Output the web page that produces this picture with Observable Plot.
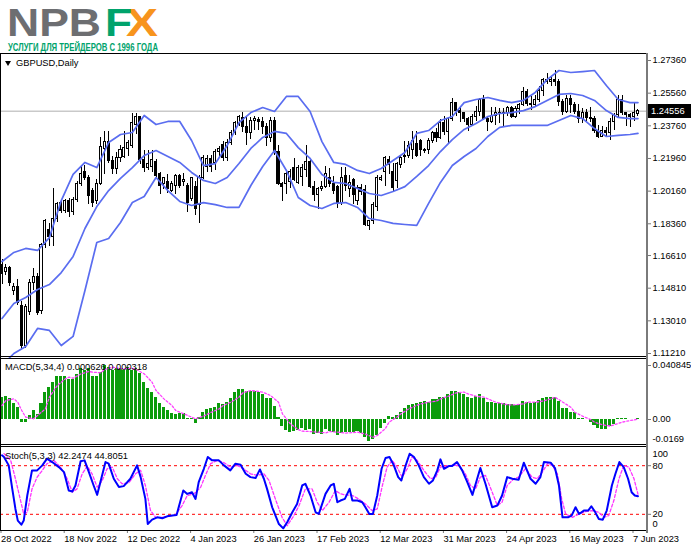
<!DOCTYPE html>
<html><head><meta charset="utf-8">
<script src="https://cdn.jsdelivr.net/npm/d3@7"></script>
<script src="https://cdn.jsdelivr.net/npm/@observablehq/plot@0.6"></script>
<style>
body{margin:0;background:#fff}
#root{position:relative;width:691px;height:549px;overflow:hidden;background:#fff;font-family:"Liberation Sans",Arial,sans-serif}
.pnl{position:absolute;left:0}
.ln{position:absolute;background:#000}
.lbl{position:absolute;font-size:9.3px;color:#000;white-space:nowrap;line-height:1}
</style></head><body>
<div id="root">
<div id="main" class="pnl" style="top:53px"></div>
<div id="macd" class="pnl" style="top:358px"></div>
<div id="stoch" class="pnl" style="top:446px"></div>
<svg width="190" height="62" style="position:absolute;left:0;top:0;overflow:visible">
 <text x="7" y="35.5" font-family="Liberation Sans, Arial" font-weight="bold" font-size="38" fill="#6d6e71" textLength="94" lengthAdjust="spacingAndGlyphs">NPB</text>
 <text x="126" y="35.5" font-family="Liberation Sans, Arial" font-weight="bold" font-size="38" fill="#f7941d" textLength="32" lengthAdjust="spacingAndGlyphs">X</text>
 <text x="105" y="35.5" font-family="Liberation Sans, Arial" font-weight="bold" font-size="38" fill="#00a36c" textLength="27" lengthAdjust="spacingAndGlyphs">F</text>
 <text x="8" y="50.5" font-family="Liberation Sans Narrow, Liberation Sans, Arial" font-weight="bold" font-size="10.5" fill="#00a36c" textLength="150" lengthAdjust="spacingAndGlyphs">УСЛУГИ ДЛЯ ТРЕЙДЕРОВ С 1996 ГОДА</text>
</svg>
</div>
<script>
// ---------- data ----------
const symbolTitle = "GBPUSD,Daily";
const macdTitle = "MACD(5,34,4) 0.000626 0.000318";
const stochTitle = "Stoch(5,3,3) 42.2474 44.8051";
const lastPrice = 1.24556;

const dateTickIdx = [0,16,32,48,64,80,96,112,128,144,160];
const dateLabels = ["28 Oct 2022","18 Nov 2022","12 Dec 2022","4 Jan 2023","26 Jan 2023","17 Feb 2023","12 Mar 2023","31 Mar 2023","24 Apr 2023","16 May 2023","7 Jun 2023"];
const priceTicks = [1.2736,1.2556,1.2376,1.2196,1.2016,1.1836,1.1661,1.1481,1.1301,1.1121];
const macdTicks = [0.040845,0];
const macdMinTick = -0.0169;
const stochTicks = [80,20];
const stochLevels = [80,20];

const open = [1.1610,1.1568,1.1590,1.1468,1.1485,1.1385,1.1165,1.1350,1.1512,1.1540,
1.1358,1.1717,1.1800,1.1762,1.1860,1.1953,1.1909,1.1960,1.1900,1.1965,
1.2055,1.2119,1.2086,1.2019,1.1964,1.2055,1.2250,1.2285,1.2180,1.2140,
1.2200,1.2205,1.2250,1.2267,1.2380,1.2425,1.2185,1.2146,1.2150,1.2174,
1.2113,1.2058,1.2064,1.2019,1.2047,1.2102,1.2064,1.2047,1.1975,1.2040,
1.1937,1.2091,1.2150,1.2192,1.2170,1.2229,1.2268,1.2196,1.2284,1.2334,
1.2378,1.2420,1.2372,1.2334,1.2400,1.2410,1.2395,1.2370,1.2310,1.2400,
1.2230,1.2058,1.2058,1.2064,1.2141,1.2060,1.2092,1.2130,1.2174,1.2040,
1.1992,1.2030,1.2040,1.2086,1.2058,1.2040,1.1950,1.2100,1.2025,1.2080,
1.1960,1.2035,1.2020,1.1822,1.1854,1.1926,1.2080,1.2119,1.2190,1.2119,
1.2070,1.2160,1.2205,1.2210,1.2240,1.2278,1.2290,1.2235,1.2240,1.2290,
1.2335,1.2310,1.2390,1.2340,1.2415,1.2500,1.2455,1.2445,1.2415,1.2380,
1.2425,1.2450,1.2520,1.2415,1.2395,1.2430,1.2445,1.2440,1.2445,1.2475,
1.2425,1.2470,1.2490,1.2565,1.2495,1.2490,1.2520,1.2570,1.2630,1.2615,
1.2630,1.2620,1.2505,1.2450,1.2525,1.2490,1.2450,1.2415,1.2445,1.2420,
1.2415,1.2345,1.2315,1.2345,1.2335,1.2395,1.2435,1.2520,1.2445,1.2435,
1.2425,1.2440];
const high = [1.1640,1.1610,1.1600,1.1505,1.1530,1.1405,1.1390,1.1530,1.1590,1.1560,
1.1730,1.1860,1.1840,1.2030,1.1955,1.1960,1.1970,1.1975,1.1980,1.2070,
1.2155,1.2155,1.2100,1.2030,1.2080,1.2310,1.2345,1.2345,1.2205,1.2230,
1.2270,1.2345,1.2295,1.2445,1.2445,1.2430,1.2240,1.2240,1.2240,1.2190,
1.2120,1.2090,1.2110,1.2070,1.2110,1.2110,1.2115,1.2060,1.2090,1.2070,
1.2100,1.2210,1.2215,1.2210,1.2245,1.2260,1.2290,1.2300,1.2350,1.2400,
1.2435,1.2450,1.2420,1.2420,1.2430,1.2420,1.2420,1.2390,1.2420,1.2420,
1.2265,1.2065,1.2120,1.2135,1.2195,1.2160,1.2165,1.2268,1.2185,1.2070,
1.2035,1.2070,1.2150,1.2140,1.2095,1.2045,1.2145,1.2145,1.2100,1.2085,
1.2045,1.2050,1.2045,1.1855,1.1955,1.2100,1.2100,1.2205,1.2205,1.2170,
1.2175,1.2205,1.2290,1.2290,1.2345,1.2345,1.2300,1.2250,1.2305,1.2345,
1.2360,1.2410,1.2425,1.2420,1.2525,1.2505,1.2475,1.2450,1.2420,1.2440,
1.2485,1.2525,1.2545,1.2425,1.2475,1.2475,1.2470,1.2470,1.2480,1.2485,
1.2485,1.2500,1.2585,1.2575,1.2535,1.2545,1.2590,1.2635,1.2665,1.2645,
1.2680,1.2630,1.2520,1.2545,1.2545,1.2505,1.2495,1.2470,1.2465,1.2475,
1.2425,1.2375,1.2370,1.2365,1.2415,1.2445,1.2545,1.2545,1.2450,1.2445,
1.2500,1.2465];
const low = [1.1500,1.1550,1.1490,1.1440,1.1385,1.1145,1.1150,1.1330,1.1470,1.1330,
1.1335,1.1700,1.1710,1.1710,1.1845,1.1895,1.1890,1.1870,1.1880,1.1955,
1.2040,1.2075,1.1945,1.1925,1.1940,1.2045,1.2110,1.2170,1.2105,1.2105,
1.2175,1.2195,1.2205,1.2250,1.2330,1.2165,1.2120,1.2130,1.2120,1.2085,
1.2000,1.2025,1.2003,1.2010,1.2000,1.2030,1.2040,1.1900,1.1960,1.1880,
1.1838,1.2080,1.2120,1.2120,1.2130,1.2200,1.2180,1.2180,1.2270,1.2320,
1.2370,1.2340,1.2265,1.2300,1.2350,1.2350,1.2330,1.2260,1.2285,1.2210,
1.2045,1.1960,1.2000,1.2030,1.2070,1.2050,1.2040,1.2090,1.2030,1.1960,
1.1915,1.2015,1.2030,1.2035,1.1995,1.1920,1.1935,1.2015,1.1980,1.1940,
1.1935,1.1990,1.1820,1.1800,1.1830,1.1905,1.2070,1.2040,1.2105,1.2010,
1.2030,1.2140,1.2170,1.2195,1.2190,1.2200,1.2205,1.2225,1.2220,1.2280,
1.2285,1.2300,1.2320,1.2275,1.2400,1.2430,1.2395,1.2395,1.2345,1.2375,
1.2400,1.2430,1.2405,1.2345,1.2390,1.2375,1.2390,1.2365,1.2425,1.2415,
1.2415,1.2440,1.2480,1.2485,1.2460,1.2475,1.2505,1.2540,1.2605,1.2595,
1.2590,1.2485,1.2435,1.2445,1.2445,1.2440,1.2390,1.2390,1.2400,1.2395,
1.2335,1.2305,1.2310,1.2315,1.2295,1.2350,1.2415,1.2435,1.2370,1.2365,
1.2400,1.2430];
const close = [1.1560,1.1590,1.1512,1.1485,1.1397,1.1160,1.1375,1.1512,1.1540,1.1342,
1.1717,1.1854,1.1762,1.1860,1.1945,1.1909,1.1960,1.1900,1.1965,1.2055,
1.2113,1.2086,1.1990,1.1948,1.2058,1.2260,1.2285,1.2180,1.2140,1.2200,
1.2240,1.2256,1.2284,1.2389,1.2425,1.2185,1.2146,1.2165,1.2185,1.2102,
1.2047,1.2086,1.2030,1.2058,1.2102,1.2047,1.2080,1.1953,1.2086,1.1915,
1.2090,1.2201,1.2192,1.2150,1.2229,1.2250,1.2196,1.2280,1.2339,1.2394,
1.2422,1.2372,1.2334,1.2405,1.2415,1.2395,1.2370,1.2310,1.2400,1.2230,
1.2055,1.2040,1.2110,1.2119,1.2075,1.2141,1.2146,1.2174,1.2040,1.1992,
1.2030,1.2040,1.2108,1.2058,1.2019,1.1950,1.2090,1.2047,1.2060,1.1992,
1.2035,1.2010,1.1827,1.1850,1.1937,1.2091,1.2090,1.2196,1.2160,1.2035,
1.2168,1.2196,1.2212,1.2262,1.2295,1.2212,1.2240,1.2240,1.2295,1.2335,
1.2310,1.2390,1.2340,1.2415,1.2500,1.2455,1.2445,1.2415,1.2380,1.2425,
1.2450,1.2520,1.2415,1.2395,1.2430,1.2445,1.2440,1.2445,1.2475,1.2425,
1.2470,1.2490,1.2565,1.2495,1.2490,1.2520,1.2570,1.2630,1.2615,1.2630,
1.2620,1.2505,1.2450,1.2525,1.2490,1.2450,1.2415,1.2445,1.2420,1.2415,
1.2345,1.2315,1.2345,1.2335,1.2395,1.2435,1.2520,1.2445,1.2435,1.2425,
1.2445,1.2456];

// Bollinger bands read every 3 bars
const bbIdx = [0,3,6,9,12,15,18,21,24,27,30,33,36,39,42,45,48,51,54,57,60,63,66,69,72,75,78,81,84,87,90,93,96,99,102,105,108,111,114,117,120,123,126,129,132,135,138,141,144,147,150,153,156,159,161];
const bbUpper = [1.1628,1.1678,1.1700,1.1689,1.1760,1.1964,1.2108,1.2174,1.2146,1.2284,1.2328,1.2339,1.2433,1.2383,1.2400,1.2400,1.2295,1.2157,1.2168,1.2267,1.2394,1.2449,1.2477,1.2455,1.2538,1.2538,1.2455,1.2289,1.2174,1.2163,1.2130,1.2113,1.2141,1.2185,1.2229,1.2334,1.2350,1.2405,1.2427,1.2504,1.2521,1.2532,1.2516,1.2504,1.2516,1.2560,1.2631,1.2681,1.2670,1.2675,1.2681,1.2598,1.2521,1.2504,1.2504];
const bbMiddle = [1.1314,1.1397,1.1430,1.1474,1.1501,1.1567,1.1656,1.1810,1.1931,1.2019,1.2086,1.2146,1.2212,1.2240,1.2207,1.2174,1.2119,1.2075,1.2058,1.2091,1.2168,1.2251,1.2312,1.2345,1.2334,1.2256,1.2196,1.2108,1.2064,1.2058,1.2030,1.2003,1.1992,1.2014,1.2041,1.2097,1.2157,1.2234,1.2300,1.2356,1.2389,1.2427,1.2444,1.2449,1.2460,1.2482,1.2516,1.2549,1.2554,1.2543,1.2516,1.2460,1.2422,1.2416,1.2416];
const bbLower = [1.1055,1.1121,1.1160,1.1259,1.1248,1.1165,1.1215,1.1468,1.1733,1.1755,1.1843,1.1953,1.1986,1.2091,1.2019,1.1959,1.1937,1.1953,1.1942,1.1926,1.1926,1.2047,1.2152,1.2240,1.2130,1.1981,1.1937,1.1920,1.1948,1.1953,1.1926,1.1865,1.1854,1.1838,1.1832,1.1827,1.1948,1.2064,1.2157,1.2207,1.2251,1.2317,1.2367,1.2378,1.2378,1.2378,1.2378,1.2405,1.2433,1.2416,1.2361,1.2317,1.2323,1.2328,1.2334];

const macdHist = [0.0169,0.0176,0.0156,0.0123,0.0093,-0.0020,-0.0020,0.0030,0.0068,0.0035,
0.0118,0.0207,0.0239,0.0282,0.0323,0.0328,0.0328,0.0302,0.0302,0.0340,
0.0383,0.0370,0.0383,0.0325,0.0328,0.0358,0.0408,0.0396,0.0370,0.0383,
0.0383,0.0370,0.0396,0.0370,0.0388,0.0345,0.0282,0.0232,0.0207,0.0169,
0.0118,0.0093,0.0068,0.0043,0.0035,0.0048,0.0043,0.0005,0.0010,-0.0033,
0.0018,0.0055,0.0076,0.0081,0.0093,0.0118,0.0111,0.0131,0.0156,0.0207,
0.0224,0.0224,0.0214,0.0214,0.0214,0.0202,0.0186,0.0161,0.0156,0.0101,
0.0015,-0.0050,-0.0083,-0.0096,-0.0091,-0.0083,-0.0071,-0.0083,-0.0076,-0.0111,
-0.0108,-0.0111,-0.0076,-0.0091,-0.0096,-0.0121,-0.0108,-0.0101,-0.0096,-0.0096,
-0.0091,-0.0108,-0.0134,-0.0166,-0.0151,-0.0121,-0.0071,-0.0033,0.0025,0.0018,
0.0030,0.0055,0.0081,0.0106,0.0111,0.0118,0.0131,0.0136,0.0126,0.0151,
0.0151,0.0169,0.0169,0.0186,0.0214,0.0214,0.0202,0.0186,0.0169,0.0161,
0.0176,0.0189,0.0161,0.0131,0.0126,0.0118,0.0118,0.0118,0.0111,0.0111,
0.0106,0.0111,0.0139,0.0131,0.0118,0.0131,0.0144,0.0161,0.0164,0.0169,
0.0169,0.0136,0.0081,0.0081,0.0055,0.0050,0.0010,0.0005,-0.0003,-0.0020,
-0.0045,-0.0071,-0.0076,-0.0076,-0.0053,-0.0040,0.0005,0.0005,0.0005,0.0003,
0.0003,0.0006];

const macdSignal = [[0,0.0106],[1,0.0144],[3,0.0156],[4,0.0131],[5,0.0068],[6,0.0018],[8,0.0005],[9,0.0030],[11,0.0081],[12,0.0169],[14,0.0257],[16,0.0307],[17,0.0320],[18,0.0312],[20,0.0345],[22,0.0363],[23,0.0358],[25,0.0353],[26,0.0378],[28,0.0396],[29,0.0388],[31,0.0383],[33,0.0388],[34,0.0378],[36,0.0345],[38,0.0282],[39,0.0219],[41,0.0156],[43,0.0106],[44,0.0068],[46,0.0043],[48,0.0018],[49,0.0005],[51,0.0025],[53,0.0055],[55,0.0081],[56,0.0106],[58,0.0131],[60,0.0169],[61,0.0202],[63,0.0219],[65,0.0212],[66,0.0207],[68,0.0181],[70,0.0131],[71,0.0043],[73,-0.0033],[75,-0.0076],[76,-0.0088],[78,-0.0091],[80,-0.0096],[82,-0.0101],[83,-0.0091],[85,-0.0096],[87,-0.0103],[90,-0.0096],[92,-0.0111],[94,-0.0134],[95,-0.0121],[97,-0.0071],[98,-0.0020],[100,0.0018],[101,0.0043],[103,0.0081],[105,0.0106],[106,0.0118],[108,0.0131],[110,0.0139],[111,0.0156],[113,0.0176],[115,0.0202],[117,0.0207],[118,0.0194],[120,0.0176],[122,0.0169],[123,0.0156],[125,0.0131],[127,0.0118],[128,0.0111],[130,0.0111],[132,0.0118],[133,0.0131],[135,0.0131],[137,0.0139],[139,0.0156],[140,0.0169],[142,0.0131],[144,0.0093],[145,0.0055],[147,0.0025],[149,0.0000],[150,-0.0020],[152,-0.0040],[154,-0.0050],[155,-0.0040],[157,-0.0020],[159,-0.0008],[160,-0.0003],[161,0.0003]];

const stochMain = [[0,92.8],[0.5,90.7],[1.7,80.4],[2.6,51.4],[3.4,26.6],[4.0,12.2],[4.9,7.2],[5.5,12.2],[6.4,43.2],[7.6,74.2],[8.9,74.2],[10.2,80.4],[11.4,88.7],[12.7,84.5],[14.4,78.3],[15.7,72.1],[16.9,49.4],[17.8,48.1],[18.6,55.6],[19.9,85.4],[20.9,86.6],[22.0,72.1],[23.2,55.6],[24.1,44],[24.9,59.7],[26.2,84.5],[27.0,82.5],[28.3,63.9],[29.6,53.6],[30.8,54.8],[32.5,63.9],[34.2,80.4],[35.1,65.9],[36.3,39],[36.9,8],[38.0,13.4],[39.3,16.3],[40.6,15.1],[41.8,17.5],[43.1,18.4],[44.2,19.2],[45.2,37],[45.9,49.4],[46.9,45.2],[48.1,47.3],[49.0,39],[49.8,59.7],[51.1,76.2],[52.1,90.7],[53.2,86.6],[54.9,86.6],[56.2,80.4],[57.8,74.2],[59.1,82.5],[60.4,81.2],[61.7,70],[62.9,65.9],[64.2,64.7],[65.3,75.4],[66.3,63.9],[67.1,51.4],[68.4,28.7],[70.1,8],[71.2,2.6],[72.2,10.1],[73.5,22.5],[74.7,32.8],[76.0,55.6],[76.8,57.7],[78.1,43.2],[79.4,22.5],[80.2,20.4],[81.9,45.2],[83.2,55.6],[84.0,57.7],[84.9,34.9],[85.7,37],[86.8,39],[88.0,51.4],[88.7,37],[90.0,37],[91.2,34.9],[92.0,28.7],[93.0,20.4],[93.9,20.4],[95.0,43.2],[96.1,76.2],[97.1,89.5],[98.1,90.7],[99.2,80.4],[100.3,65.9],[101.1,61.8],[102.2,80.4],[103.2,94.8],[104.3,90.7],[105.5,80.4],[106.8,65.9],[108.1,57.7],[109.1,61.8],[110.2,74.2],[111.0,87.8],[111.9,76.2],[113.1,79.5],[113.9,79.5],[115.2,84.5],[116.5,74.2],[117.8,59.7],[119.1,44],[120.3,63.9],[121.1,77.1],[122.4,57.7],[124.1,28.7],[125.4,30.8],[126.6,43.2],[127.9,65.9],[129.2,63.9],[130.8,62.6],[132.1,83.7],[133.8,63.9],[135.1,57.7],[136.3,65.9],[137.2,84.5],[138.9,83.7],[140.0,77.1],[141.0,55.6],[141.9,16.3],[143.3,16.3],[144.2,18.4],[145.2,28.7],[146.1,20.4],[147.3,24.6],[148.4,24.6],[149.2,29.9],[150.1,23.3],[151.1,14.2],[152.1,13.4],[153.1,24.6],[154.4,55.6],[155.3,70],[156.3,84.5],[157.4,78.3],[158.5,63.9],[159.4,47.3],[160.2,43.2],[161,42.2]];

const stochSignal = [[0.5,94.9],[2.2,86.6],[3.4,63.9],[4.7,37],[5.5,20.4],[6.4,22.5],[7.6,51.4],[8.9,65.9],[10.2,74.2],[11.4,82.5],[13.1,86.6],[14.8,78.3],[16.5,63.9],[17.8,47.3],[19,51.4],[20.3,70],[21.6,79.5],[22.8,70],[24.1,53.5],[25.4,61.8],[26.6,76.2],[27.9,78.3],[29.2,63.9],[30.4,57.7],[32.1,58.9],[33.8,70],[35.1,74.2],[36.3,55.6],[37.6,24.6],[38.9,16.3],[40.5,16.3],[42.2,17.5],[43.9,19.2],[45.6,30.8],[46.9,43.2],[48.6,45.2],[50.3,53.5],[51.5,68],[52.8,82.5],[54.5,86.6],[56.2,83.7],[57.9,78.3],[59.5,80.4],[61.2,76.2],[62.9,70],[64.6,68],[66.3,70],[67.6,61.8],[69.2,39],[70.9,16.3],[72.2,5.9],[73.9,18.4],[75.2,30.8],[76.8,51.4],[78.5,51.4],[79.8,34.9],[81.1,24.6],[82.8,34.9],[84.4,49.4],[85.7,45.2],[86.8,44],[88.7,43.2],[90.3,39],[92,32.8],[93.7,24.6],[95,26.6],[96.3,55.6],[97.5,78.3],[98.8,86.6],[100,78.3],[101.3,65.9],[102.6,76.2],[103.8,90.7],[105.1,86.6],[106.8,74.2],[108.5,63.9],[109.8,65.9],[111,78.3],[112.3,79.5],[114,80.4],[115.7,80.4],[117.3,70],[118.6,55.6],[119.9,51.4],[121.1,65.9],[122.4,68],[124.1,47.3],[125.4,30.8],[126.6,34.9],[127.9,55.6],[129.6,63.9],[130.8,65.9],[132.5,76.2],[134.2,65.9],[135.5,63.9],[136.8,72.1],[138.1,82.5],[139.3,80.4],[140.6,70],[141.7,39],[142.7,20.4],[144.4,16.3],[146.1,20.4],[147.7,23.3],[149.4,24.6],[151.1,22.5],[152.4,16.3],[153.6,18.4],[154.9,37],[156.2,63.9],[157.4,80.4],[158.7,78.3],[160,63.9],[161,44.8]];

// ---------- build ----------
const FONT = '"Liberation Sans", Arial, sans-serif';
const W = 691, MR = 44;
const xScale = {domain: [0, 161], range: [1.5, 1.5 + 3.95 * 161], axis: null, label: null};
const baseStyle = {background: "transparent", fontFamily: FONT, fontSize: "9.3px", color: "#000", overflow: "visible"};
const ax = {anchor: "right", label: null, fill: "#000"};

const candles = open.map((o, i) => ({i, o, h: high[i], l: low[i], c: close[i]}));
const bull = candles.filter(d => d.c >= d.o);
const bear = candles.filter(d => d.c < d.o);
const bands = bbIdx.map((j, k) => ({j, up: bbUpper[k], mid: bbMiddle[k], lo: bbLower[k]}));
const BW = 0.26;
const bandStyle = {x: "j", stroke: "#5a6df0", strokeWidth: 1.7, clip: true};

const mainPlot = Plot.plot({
  width: W, height: 305, marginTop: 0, marginBottom: 0, marginLeft: 0, marginRight: MR,
  x: xScale,
  y: {domain: [1.1121, 1.2736], range: [300, 7], axis: null, label: null},
  style: baseStyle,
  marks: [
    Plot.ruleY([lastPrice], {stroke: "#c9c9c9", strokeWidth: 1.5}),
    Plot.ruleX(candles, {x: "i", y1: "l", y2: "h", stroke: "#000", strokeWidth: 1, shapeRendering: "crispEdges", clip: true}),
    Plot.rect(bull, {x1: d => d.i - BW, x2: d => d.i + BW, y1: "o", y2: "c", fill: "#fff", stroke: "#000", strokeWidth: 1, shapeRendering: "crispEdges"}),
    Plot.rect(bear, {x1: d => d.i - BW, x2: d => d.i + BW, y1: "o", y2: "c", fill: "#000", stroke: "#000", strokeWidth: 1, shapeRendering: "crispEdges"}),
    Plot.line(bands, {...bandStyle, y: "up"}),
    Plot.line(bands, {...bandStyle, y: "mid"}),
    Plot.line(bands, {...bandStyle, y: "lo"}),
    Plot.axisY(priceTicks, {...ax, tickSize: 3, tickPadding: 2, tickFormat: d => d.toFixed(5), stroke: "#777"})
  ]
});
document.getElementById("main").appendChild(mainPlot);

const macdData = macdHist.map((v, i) => ({i, v}));
const macdPlot = Plot.plot({
  width: W, height: 87, marginTop: 0, marginBottom: 0, marginLeft: 0, marginRight: MR,
  x: xScale,
  y: {domain: [0, 0.040845], range: [61, 7], axis: null, label: null},
  style: baseStyle,
  marks: [
    Plot.rect(macdData, {x1: d => d.i - 0.38, x2: d => d.i + 0.38, y1: 0, y2: "v", fill: "#0b9c0b", shapeRendering: "crispEdges"}),
    Plot.line(macdSignal, {x: d => d[0], y: d => d[1], stroke: "#ff40ff", strokeWidth: 1.3, strokeDasharray: "2,2"}),
    Plot.axisY(macdTicks, {...ax, tickSize: 3, tickPadding: 2, tickFormat: d => d === 0 ? "0.00" : String(d), stroke: "#777"}),
    Plot.axisY([macdMinTick], {...ax, tickSize: 0, tickPadding: 5, dy: -3, tickFormat: d => String(d)})
  ]
});
document.getElementById("macd").appendChild(macdPlot);

const stochPlot = Plot.plot({
  width: W, height: 103, marginTop: 0, marginBottom: 19, marginLeft: 0, marginRight: MR,
  x: xScale,
  y: {domain: [0, 100], range: [84, 3], axis: null, label: null},
  style: baseStyle,
  marks: [
    Plot.ruleY(stochLevels, {stroke: "#ff0000", strokeWidth: 1, strokeDasharray: "3,3"}),
    Plot.line(stochSignal, {x: d => d[0], y: d => d[1], stroke: "#ff33ff", strokeWidth: 1.3, strokeDasharray: "3,2"}),
    Plot.line(stochMain, {x: d => d[0], y: d => d[1], stroke: "#0000ff", strokeWidth: 2}),
    Plot.axisY(stochTicks, {...ax, tickSize: 3, tickPadding: 2, stroke: "#777"}),
    Plot.axisY([100], {...ax, tickSize: 0, tickPadding: 5, dy: 5}),
    Plot.axisY([0], {...ax, tickSize: 0, tickPadding: 5, dy: -6}),
    Plot.axisX(dateTickIdx, {anchor: "bottom", label: null, tickSize: 3, tickPadding: 2, textAnchor: "start", dx: -1,
      tickFormat: d => dateLabels[dateTickIdx.indexOf(d)], stroke: "#777", fill: "#000"})
  ]
});
document.getElementById("stoch").appendChild(stochPlot);

// ---------- frame decorations & titles ----------
const root = document.getElementById("root");
function line(l, t, w, h, c) {
  const d = document.createElement("div"); d.className = "ln";
  Object.assign(d.style, {left: l + "px", top: t + "px", width: w + "px", height: h + "px", background: c || "#000"});
  root.appendChild(d);
}
line(0, 53, 647, 1); line(0, 356, 647, 1); line(0, 358, 647, 1);
line(0, 444, 647, 1); line(0, 446, 647, 1); line(0, 530, 647, 1);
line(0, 53, 1, 478);
line(646, 53, 2, 480, "#7a7a7a");

function label(text, l, t, extra) {
  const d = document.createElement("div"); d.className = "lbl"; d.textContent = text;
  d.style.left = l + "px"; d.style.top = t + "px";
  if (extra) Object.assign(d.style, extra);
  root.appendChild(d);
  return d;
}
const tri = document.createElement("div");
Object.assign(tri.style, {position: "absolute", left: "5px", top: "61px", width: 0, height: 0,
  borderLeft: "3.5px solid transparent", borderRight: "3.5px solid transparent", borderTop: "5px solid #000"});
root.appendChild(tri);
label(symbolTitle, 16, 58.5);
label(macdTitle, 5, 363);
label(stochTitle, 5, 452);

// current price box, positioned through the main plot's y scale
const yPix = 53 + mainPlot.scale("y").apply(lastPrice);
label(lastPrice.toFixed(5), 648, yPix - 7, {background: "#000", color: "#fff", width: "43px", height: "14px",
  lineHeight: "14px", paddingLeft: "3px", boxSizing: "border-box"});
</script>
</body></html>
